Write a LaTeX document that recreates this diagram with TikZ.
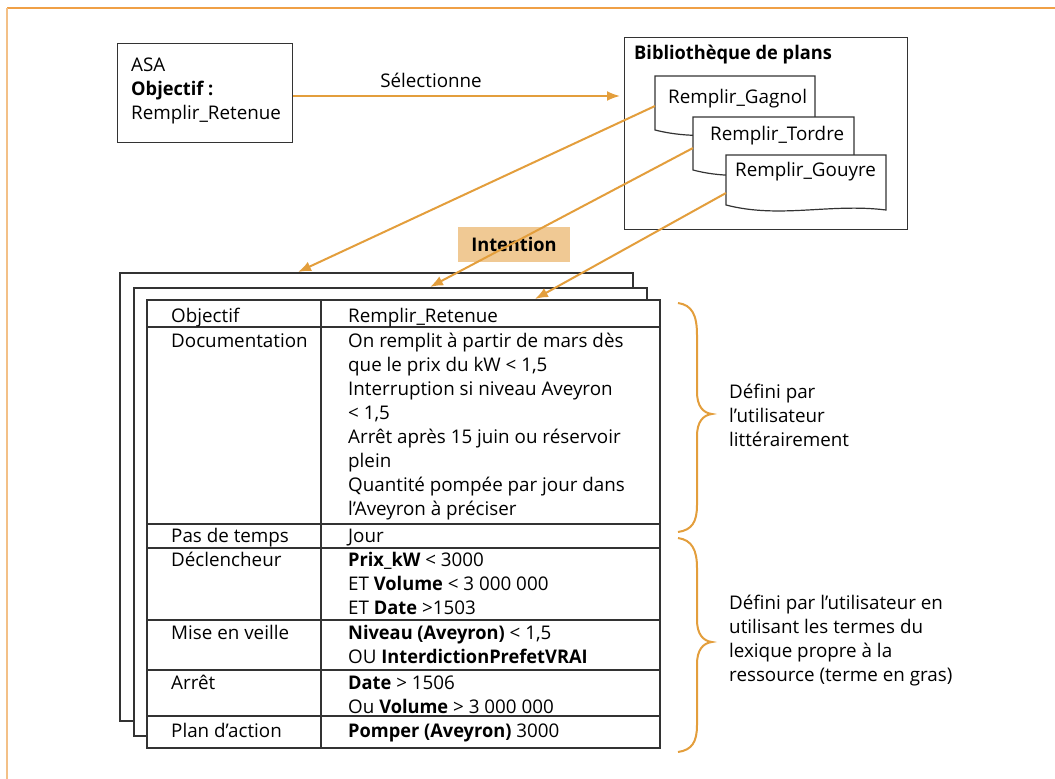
\documentclass[tikz,border=0pt]{standalone}
\usepackage{fontspec}
\setmainfont{Open Sans}[BoldFeatures={FakeStretch=0.97}]
\usetikzlibrary{arrows.meta}
\definecolor{accent}{RGB}{227,158,60}
\definecolor{framecol}{RGB}{240,160,70}
\definecolor{framelite}{RGB}{243,192,135}
\definecolor{tagfill}{RGB}{240,201,148}

\begin{document}
\begin{tikzpicture}[x=1pt, y=-1pt,
    box/.style={draw=black!80, line width=1.2pt, fill=white},
    txt/.style={anchor=north west, inner sep=0pt, align=left, font=\fontsize{18.8}{24}\selectfont},
    link/.style={draw=accent, line width=2pt, -{Latex[length=13pt, width=10pt]}},
    curly/.style={draw=accent, line width=2pt}]
    \useasboundingbox (0,0) rectangle (1055,779);

    % outer frame
    \draw[framecol, line width=2pt] (7,8) -- (1055,8);
    \draw[framelite, line width=2pt] (7,8) -- (7,779);

    % ASA
    \node[box, anchor=north west, minimum width=175pt, minimum height=99pt] (asa) at (117,43) {};
    \node[txt] (asatxt) at (131,54.2) {\strut ASA\\\textbf{Objectif :}\\Remplir\_Retenue};

    % plan library
    \node[box, anchor=north west, minimum width=283pt, minimum height=192pt] (bib) at (624,37) {};
    \node[txt] (bibtxt) at (634,42.2) {\strut\textbf{Bibliothèque de plans}};
    \coordinate (bibin) at (620,96);

    \draw[box] (655,76) -- (815,76) -- (815,133) .. controls (760,126) and (710,144) .. (655,130) -- cycle;
    \draw[box] (693,117) -- (854,117) -- (854,173) .. controls (800,166) and (745,184) .. (693,170) -- cycle;
    \draw[box] (726,155) -- (886,155) -- (886,210) .. controls (830,203) and (780,219) .. (726,205) -- cycle;
    \node[txt] (gagnol) at (668,86.2) {\strut Remplir\_Gagnol};
    \node[txt] (tordre) at (710,123.2) {\strut Remplir\_Tordre};
    \node[txt] (gouyre) at (735,159.2) {\strut Remplir\_Gouyre};
    \coordinate (gagnolout) at (655,106);
    \coordinate (tordreout) at (693,148);
    \coordinate (gouyreout) at (726,193);

    % intention sheets
    \draw[box] (120,273) rectangle (633,721);
    \draw[box] (134,288) rectangle (647,736);
    \draw[box] (147,300) rectangle (660,748);
    \draw[box] (321,300) -- (321,748);
    \foreach \y in {327,524,548,620,670,716}
        \draw[box] (147,\y) -- (660,\y);
    \coordinate (sheetA) at (298,272);
    \coordinate (sheetB) at (430,287);
    \coordinate (sheetC) at (535,299);

    \node[fill=tagfill, minimum width=112pt, minimum height=35pt, font=\fontsize{18.8}{24}\selectfont\bfseries] (tag) at (514,244.5) {Intention};

    % rows
    \node[txt] (k1) at (171,305.2) {\strut Objectif};
    \node[txt] (v1) at (348,305.2) {\strut Remplir\_Retenue};
    \node[txt] (k2) at (171,330.2) {\strut Documentation};
    \node[txt] (v2) at (348,330.2) {\strut On remplit à partir de mars dès\\que le prix du kW < 1,5\\Interruption si niveau Aveyron\\< 1,5\\Arrêt après 15 juin ou réservoir\\plein\\Quantité pompée par jour dans\\l’Aveyron à préciser};
    \node[txt] (k3) at (171,525.2) {\strut Pas de temps};
    \node[txt] (v3) at (348,525.2) {\strut Jour};
    \node[txt] (k4) at (171,549.2) {\strut Déclencheur};
    \node[txt] (v4) at (348,549.2) {\strut\textbf{Prix\_kW} < 3000\\ET \textbf{Volume} < 3 000 000\\ET \textbf{Date} >1503};
    \node[txt] (k5) at (171,622.2) {\strut Mise en veille};
    \node[txt] (v5) at (348,622.2) {\strut\textbf{Niveau (Aveyron)} < 1,5\\OU \textbf{InterdictionPrefetVRAI}};
    \node[txt] (k6) at (171,672.2) {\strut Arrêt};
    \node[txt] (v6) at (348,672.2) {\strut\textbf{Date} > 1506\\Ou \textbf{Volume} > 3 000 000};
    \node[txt] (k7) at (171,720.2) {\strut Plan d’action};
    \node[txt] (v7) at (348,720.2) {\strut\textbf{Pomper (Aveyron)} 3000};

    % arrows
    \draw[link] (asa.east |- bibin) -- (bibin);
    \node[font=\fontsize{18.8}{24}\selectfont] (sel) at (431,80) {Sélectionne};
    \draw[link] (gagnolout) -- (sheetA);
    \draw[link] (tordreout) -- (sheetB);
    \draw[link] (gouyreout) -- (sheetC);

    % braces
    \draw[curly] (678,303) .. controls (692,305) and (697,315) .. (697,335) -- (697,392)
        .. controls (697,406) and (703,413) .. (712,414) .. controls (703,415) and (697,422) .. (697,436)
        -- (697,505) .. controls (697,522) and (692,530) .. (678,532);
    \draw[curly] (678,538) .. controls (692,540) and (697,550) .. (697,568) -- (697,620)
        .. controls (697,634) and (703,641) .. (712,642) .. controls (703,643) and (697,650) .. (697,664)
        -- (697,725) .. controls (697,742) and (692,750) .. (678,752);
    \node[txt] (note1) at (729,381.2) {\strut Défini par\\l’utilisateur\\littérairement};
    \node[txt] (note2) at (729,592.2) {\strut Défini par l’utilisateur en\\utilisant les termes du\\lexique propre à la\\ressource (terme en gras)};
\end{tikzpicture}
\end{document}
